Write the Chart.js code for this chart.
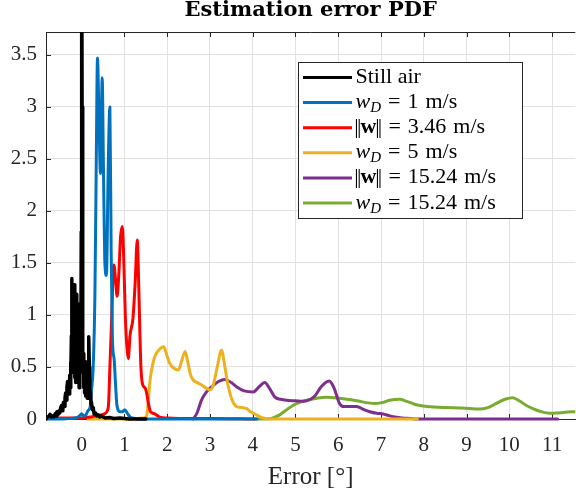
<!DOCTYPE html>
<html><head><meta charset="utf-8">
<script src="https://cdn.jsdelivr.net/npm/chart.js@4"></script>
<style>html,body{margin:0;padding:0;background:#fff;}canvas{display:block;}</style>
</head><body>
<canvas id="c" width="576" height="491"></canvas>
<script>
// ---- tick labels ----
const xTicks = [0,1,2,3,4,5,6,7,8,9,10,11];
const yTicks = [0,0.5,1,1.5,2,2.5,3,3.5];
const titleText = 'Estimation error PDF';
const xTitle = 'Error [°]';

// ---- series (x = error in degrees, y = PDF) ----
const stillAirX = [-0.834,-0.80,-0.76,-0.74,-0.71,-0.68,-0.65,-0.62,-0.60,-0.58,-0.555,-0.53,-0.51,-0.49,-0.47,-0.455,-0.44,-0.425,-0.41,-0.39,-0.375,-0.36,-0.345,-0.33,-0.315,-0.30,-0.29,-0.28,-0.27,-0.26,-0.25,-0.24,-0.23,-0.22,-0.21,-0.20,-0.19,-0.18,-0.17,-0.16,-0.15,-0.14,-0.13,-0.12,-0.11,-0.10,-0.09,-0.08,-0.07,-0.06,-0.05,-0.04,-0.03,-0.02,-0.01,0,0.01,0.02,0.03,0.04,0.05,0.06,0.07,0.08,0.09,0.10,0.11,0.12,0.13,0.14,0.15,0.16,0.17,0.18,0.19,0.20,0.21,0.22,0.23,0.25,0.27,0.29,0.32,0.35,0.38,0.42,0.46,0.50,0.55,0.65,0.75,0.90,1.10,1.50];
const stillAirY = [0.0,0.02,0.03,0.045,0.02,0.03,0.02,0.05,0.03,0.07,0.04,0.08,0.06,0.11,0.13,0.08,0.12,0.16,0.12,0.20,0.25,0.18,0.30,0.36,0.26,0.36,0.24,0.42,0.30,0.55,0.40,0.80,1.35,0.70,1.00,0.45,1.20,0.60,1.29,0.40,0.95,0.35,1.00,0.45,1.20,0.40,1.11,0.35,0.90,0.30,0.80,0.40,1.00,0.50,1.80,5.00,3.00,0.80,0.45,0.63,0.30,0.50,0.25,0.55,0.22,0.50,0.28,0.45,0.20,0.30,0.55,0.70,0.79,0.50,0.30,0.20,0.25,0.14,0.16,0.09,0.11,0.05,0.06,0.03,0.04,0.02,0.03,0.02,0.01,0.015,0.005,0.01,0.0,0.0];

const wd1X = [-0.834,-0.5,-0.3,-0.15,-0.05,0.0,0.05,0.10,0.15,0.20,0.23,0.27,0.31,0.34,0.37,0.40,0.44,0.48,0.51,0.54,0.58,0.62,0.66,0.69,0.72,0.76,0.79,0.82,0.86,0.90,0.95,1.01,1.06,1.13,1.25,1.40,4.10];
const wd1Y = [0.0,0.0,0.005,0.01,0.03,0.05,0.03,0.04,0.08,0.12,0.28,0.50,1.20,2.40,3.47,3.00,2.36,3.28,2.40,1.53,1.38,2.40,3.00,1.60,0.76,0.57,0.35,0.15,0.08,0.07,0.07,0.09,0.06,0.02,0.005,0.0,0.0];

const w346X = [-0.834,-0.5,-0.2,0.0,0.2,0.35,0.45,0.54,0.60,0.63,0.66,0.70,0.73,0.755,0.79,0.83,0.87,0.91,0.95,0.98,1.02,1.06,1.09,1.13,1.20,1.25,1.30,1.34,1.38,1.42,1.48,1.52,1.56,1.60,1.64,1.71,1.78,1.85,2.0,2.5,3.0,4.05];
const w346Y = [0.01,0.01,0.01,0.01,0.02,0.03,0.04,0.05,0.08,0.15,0.50,0.95,1.35,1.48,1.35,1.18,1.40,1.75,1.85,1.60,1.00,0.68,0.58,0.80,0.97,1.30,1.72,1.20,0.55,0.34,0.30,0.25,0.15,0.08,0.06,0.05,0.03,0.015,0.01,0.005,0.005,0.0];

const wd5X = [0.15,1.0,1.3,1.45,1.52,1.56,1.60,1.66,1.71,1.80,1.92,2.00,2.06,2.15,2.26,2.34,2.42,2.48,2.55,2.61,2.70,2.80,2.90,3.00,3.08,3.17,3.27,3.35,3.43,3.52,3.62,3.75,3.86,3.95,4.09,4.20,4.30,4.50,7.85];
const wd5Y = [0.0,0.0,0.005,0.01,0.03,0.18,0.375,0.52,0.60,0.66,0.695,0.60,0.535,0.49,0.47,0.56,0.65,0.55,0.42,0.375,0.35,0.33,0.30,0.28,0.33,0.50,0.66,0.50,0.31,0.18,0.12,0.11,0.10,0.07,0.04,0.015,0.005,0.0,0.0];

const w1524X = [2.61,2.70,2.80,2.92,3.04,3.20,3.35,3.50,3.62,3.80,4.01,4.15,4.28,4.40,4.52,4.65,4.79,5.00,5.18,5.35,5.45,5.60,5.79,5.90,6.03,6.13,6.23,6.43,6.60,6.74,6.90,7.05,7.20,7.36,7.50,7.70,7.85,11.13];
const w1524Y = [0.0,0.06,0.18,0.26,0.31,0.36,0.38,0.35,0.31,0.27,0.26,0.31,0.35,0.29,0.21,0.19,0.18,0.175,0.17,0.19,0.22,0.31,0.365,0.30,0.15,0.12,0.12,0.12,0.09,0.07,0.055,0.048,0.03,0.016,0.01,0.005,0.0,0.0];

const wd1524X = [4.05,4.40,4.50,4.63,4.80,4.94,5.10,5.26,5.50,5.72,6.03,6.30,6.50,6.70,6.89,7.05,7.20,7.44,7.60,7.80,7.98,8.25,8.53,8.90,9.31,9.50,9.70,9.90,10.08,10.25,10.40,10.55,10.75,10.94,11.10,11.30,11.55];
const wd1524Y = [0.0,0.003,0.015,0.04,0.09,0.13,0.16,0.18,0.20,0.21,0.20,0.185,0.17,0.155,0.15,0.16,0.18,0.19,0.17,0.14,0.125,0.115,0.11,0.105,0.096,0.11,0.15,0.19,0.205,0.17,0.13,0.10,0.07,0.055,0.057,0.065,0.07];

const seriesX = [stillAirX, wd1X, w346X, wd5X, w1524X, wd1524X];
const seriesY = [stillAirY, wd1Y, w346Y, wd5Y, w1524Y, wd1524Y];
const seriesNames = ['Still air','w_D = 1 m/s','||w|| = 3.46 m/s','w_D = 5 m/s','||w|| = 15.24 m/s','w_D = 15.24 m/s'];
const seriesColors = ['#000000','#0072BD','#FF0000','#EDB120','#7E2F8E','#77AC30'];

// legend rich-text pieces: [text, style]
const legendParts = [
  [['Still air','r']],
  [['w','i'],['D','sub'],['=','rel'],['1','r'],['m/s','unit']],
  [['|','norm'],['w','b'],['|','norm'],['=','rel'],['3.46','r'],['m/s','unit']],
  [['w','i'],['D','sub'],['=','rel'],['5','r'],['m/s','unit']],
  [['|','norm'],['w','b'],['|','norm'],['=','rel'],['15.24','r'],['m/s','unit']],
  [['w','i'],['D','sub'],['=','rel'],['15.24','r'],['m/s','unit']]
];

const SERIF = "'Liberation Serif', 'Times New Roman', serif";
const AXIS = '#262626';
const GRID = '#e2e2e2';

const datasets = seriesX.map((xs, k) => ({
  label: seriesNames[k],
  data: xs.map((x, i) => ({x: x, y: seriesY[k][i]})),
  borderColor: seriesColors[k],
  backgroundColor: seriesColors[k],
  borderWidth: k === 0 ? 3.5 : 3,
  pointRadius: 0,
  fill: false,
  tension: 0,
  cubicInterpolationMode: k === 0 ? 'default' : 'monotone',
  borderJoinStyle: 'round',
  borderCapStyle: 'round',
  clip: {left: 0, top: 0, right: 0, bottom: 5}
}));

const boxPlugin = {
  id: 'mlBox',
  beforeDatasetsDraw(chart) {
    const {ctx, chartArea: a, scales} = chart;
    ctx.save();
    ctx.strokeStyle = AXIS; ctx.lineWidth = 1;
    ctx.beginPath();
    ctx.moveTo(a.left, a.top + 0.5); ctx.lineTo(a.right, a.top + 0.5);
    xTicks.forEach(v => {
      const px = Math.round(scales.x.getPixelForValue(v)) + 0.5;
      ctx.moveTo(px, a.bottom); ctx.lineTo(px, a.bottom - 5);
      ctx.moveTo(px, a.top); ctx.lineTo(px, a.top + 5);
    });
    yTicks.forEach(v => {
      const py = Math.round(scales.y.getPixelForValue(v)) + 0.5;
      ctx.moveTo(a.left, py); ctx.lineTo(a.left + 5, py);
    });
    ctx.stroke();
    ctx.restore();
  }
};

const legendPlugin = {
  id: 'mlLegend',
  afterDraw(chart) {
    const ctx = chart.ctx;
    const bx = 298.5, by = 62.5, bw = 224, bh = 156;
    ctx.save();
    ctx.fillStyle = '#fff';
    ctx.fillRect(bx, by, bw, bh);
    ctx.strokeStyle = AXIS; ctx.lineWidth = 1;
    ctx.strokeRect(bx, by, bw, bh);
    const fonts = {
      r: '22px ' + SERIF, unit: '22px ' + SERIF, rel: '22px ' + SERIF, norm: '22px ' + SERIF,
      i: 'italic 22px ' + SERIF, b: 'bold 22px ' + SERIF, sub: 'italic 15px ' + SERIF
    };
    legendParts.forEach((parts, k) => {
      const y = 77.5 + 25.1 * k;
      ctx.strokeStyle = seriesColors[k];
      ctx.lineWidth = 3;
      ctx.beginPath(); ctx.moveTo(303, y); ctx.lineTo(352, y); ctx.stroke();
      let x = 355.5;
      ctx.fillStyle = '#000';
      ctx.textBaseline = 'alphabetic';
      ctx.textAlign = 'left';
      parts.forEach(([t, s]) => {
        ctx.font = fonts[s];
        let gapL = 0, gapR = 0, dy = 0;
        if (s === 'rel') { gapL = 7; gapR = 7; }
        if (s === 'unit') { gapL = 7; }
        if (s === 'sub') { dy = 4; }
        x += gapL;
        if (s === 'norm') {
          const w = ctx.measureText(t).width;
          ctx.fillText(t, x - 1.2, y + 5.5);
          ctx.fillText(t, x + 1.4, y + 5.5);
          x += w + 0.6;
        } else {
          ctx.fillText(t, x, y + 5.5 + dy);
          x += ctx.measureText(t).width + gapR;
        }
      });
    });
    ctx.restore();
  }
};

new Chart(document.getElementById('c').getContext('2d'), {
  type: 'line',
  data: {datasets},
  options: {
    responsive: false,
    animation: false,
    devicePixelRatio: 1,
    layout: {padding: {left: 0, right: 0, top: 0, bottom: 0}},
    plugins: {
      legend: {display: false},
      tooltip: {enabled: false},
      title: {
        display: true, text: titleText, fullSize: false, color: '#000',
        font: {family: "'DejaVu Serif', serif", weight: 'bold', size: 21, lineHeight: '21px'},
        padding: {top: 0, bottom: 11}
      }
    },
    scales: {
      x: {
        type: 'linear', min: -0.834, max: 11.544,
        afterBuildTicks: s => { s.ticks = xTicks.map(v => ({value: v})); },
        afterFit: s => { s.height = 72; },
        grid: {color: GRID, lineWidth: 1, drawTicks: false},
        border: {display: true, color: AXIS, width: 1},
        ticks: {font: {family: SERIF, size: 21}, color: AXIS, padding: 13.8, maxRotation: 0, autoSkip: false,
                callback: v => String(v)},
        title: {display: true, text: xTitle, color: AXIS,
                font: {family: SERIF, size: 25, lineHeight: '25px'}, padding: {top: 0, bottom: 1}}
      },
      y: {
        type: 'linear', min: 0, max: 3.72,
        afterBuildTicks: s => { s.ticks = yTicks.map(v => ({value: v})); },
        afterFit: s => { s.width = 46; },
        grid: {color: GRID, lineWidth: 1, drawTicks: false},
        border: {display: true, color: AXIS, width: 1},
        ticks: {font: {family: SERIF, size: 21}, color: AXIS, padding: 9, autoSkip: false,
                callback: v => String(v)}
      }
    }
  },
  plugins: [boxPlugin, legendPlugin]
});
</script>
</body></html>
